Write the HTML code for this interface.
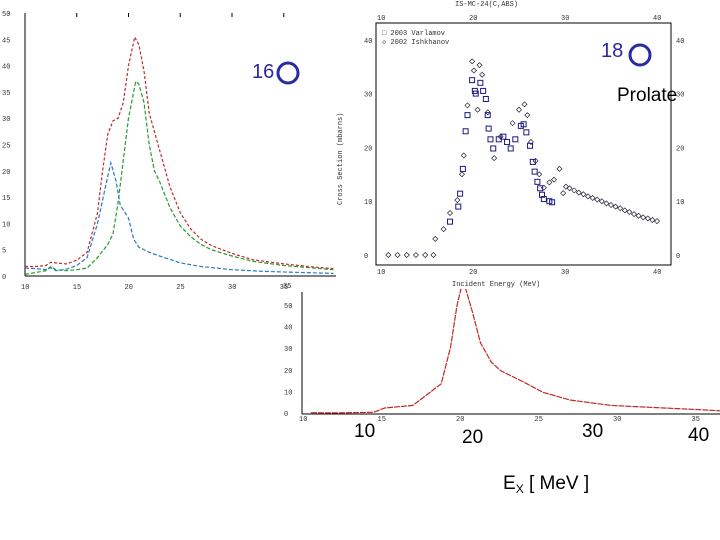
<!DOCTYPE html>
<html><head><meta charset="utf-8"><style>
body{margin:0;background:#fff;}
svg{display:block;font-family:"Liberation Sans",sans-serif;}
.tk{font-family:"Liberation Mono",monospace;font-size:7px;fill:#333;}
</style></head><body>
<svg id="s" width="720" height="540" viewBox="0 0 720 540">
<rect width="720" height="540" fill="#fff"/>
<g id="c1"></g>
<g id="c2"></g>
<g id="c3"></g>
<g>
<text x="252" y="78" font-size="20" fill="#2a2a9a">16</text>
<circle cx="288" cy="73" r="10" fill="none" stroke="#2a2aa8" stroke-width="3"/></g>
<g>
<text x="601" y="57" font-size="20" fill="#2a2a9a">18</text>
<circle cx="640" cy="55" r="10" fill="none" stroke="#2a2aa8" stroke-width="3"/></g>
<text x="617" y="101" font-size="19" fill="#000">Prolate</text>
<g font-size="19" fill="#000">
<text x="354" y="437">10</text><text x="462" y="443">20</text><text x="582" y="437">30</text><text x="688" y="441">40</text></g>
<text x="503" y="489" font-size="19" fill="#000">E<tspan font-size="12" dy="4">X</tspan><tspan dy="-4"> [ MeV ]</tspan></text>
</svg>
<script>
const NS="http://www.w3.org/2000/svg";
function mk(p,t,a){const e=document.createElementNS(NS,t);for(const k in a)e.setAttribute(k,a[k]);p.appendChild(e);return e;}
// ---- chart 1 data ----
const c1RedE=[10,11,12,12.5,13,14,15,16,17,17.5,18,18.5,19,19.5,20,20.6,21,21.5,22,23,24,25,26,27,28,30,32,35,38,39.8];
const c1RedV=[1.8,1.8,2.0,2.6,2.5,2.3,3.0,4.5,12,20,27,29.5,30,33,40,45.4,44,39,31,24,17,12,9,7,5.8,4.3,3.1,2.3,1.7,1.4];
const c1GreenE=[10,12,12.5,13,14,15,16,17,18,18.5,19,19.5,20,20.7,21,21.5,22,22.5,23,24,25,26,27,28,30,32,35,38,39.8];
const c1GreenV=[0.3,1.0,1.8,1.2,1.0,1.2,1.5,3.5,6,8,14,22,30,37,36.5,33,25,20,18,13,9.5,7.5,6,5,3.8,2.8,2.0,1.5,1.2];
const c1BlueE=[10,11,12,12.5,13,14,15,16,17,18,18.3,18.8,19.2,20,20.5,21,22,23,25,27,30,33,36,39.8];
const c1BlueV=[1.5,1.4,1.2,1.6,1.0,1.3,2.0,3.5,10,19,21.5,18,13.5,11,7,5.5,4.5,3.8,2.5,1.8,1.2,0.9,0.7,0.5];
const c1YTicks=[0,5,10,15,20,25,30,35,40,45,50];
const c1XTicks=[10,15,20,25,30,35];
// ---- chart 2 data ----
const c2SqE=[17.5,18.4,18.6,18.9,19.2,19.4,19.9,20.2,20.3,20.8,21.1,21.4,21.6,21.7,21.9,22.2,22.8,23.3,23.7,24.1,24.6,25.2,25.5,25.8,26.2,26.5,26.7,27.0,27.3,27.5,27.7,28.3,28.6];
const c2SqV=[6.2,9.0,11.4,16,23,26,32.5,30.5,30,32,30.5,29,26,23.5,21.5,19.8,21.5,22,21,19.8,21.5,24,24.3,22.8,20.3,17.3,15.5,13.6,12.4,11.2,10.4,10,9.8];
const c2DiE=[10.8,11.8,12.8,13.8,14.8,15.7,15.9,16.8,17.5,18.3,18.8,19.0,19.4,19.9,20.1,20.5,20.7,21.0,21.6,22.3,23.0,24.3,25.0,25.6,25.9,26.3,26.8,27.2,27.7,28.3,28.8,29.4,29.8,30.1,30.5,31,31.5,32,32.5,33,33.5,34,34.5,35,35.5,36,36.5,37,37.5,38,38.5,39,39.5,40];
const c2DiV=[0,0,0,0,0,0,3,4.8,7.8,10.2,15,18.5,27.8,36,34.3,27,35.3,33.5,26.5,18,22,24.5,27,28,26,21,17.5,15,12.5,13.5,14,16,11.5,12.7,12.4,12,11.6,11.3,10.9,10.6,10.3,10,9.6,9.3,9.0,8.7,8.3,8.0,7.6,7.3,7.0,6.8,6.5,6.3];
const c2YTicks=[0,10,20,30,40];
const c2XTicks=[10,20,30,40];
// ---- chart 3 data ----
const c3E=[10.5,12,14.5,15.2,17,18.8,19.4,19.8,20.2,20.8,21.3,22,22.6,24,25.3,27,29.6,31.8,35.3,37];
const c3V=[0.6,0.5,0.8,2.8,4,14,31,50,62,47,33,24,20,15,10,6.5,4,3.2,2,1.3];
const c3YTicks=[0,10,20,30,40,50];
const c3YLabels=["0","10","20","30","40","50"];
const c3XTicks=[10,15,20,25,30,35];

// chart 1 axes
const g1=document.getElementById('c1');
const x1=e=>25+(e-10)*10.35, y1=v=>276-v*5.26;
mk(g1,'line',{x1:25,y1:13,x2:25,y2:276,stroke:'#000','stroke-width':1});
mk(g1,'line',{x1:25,y1:276,x2:336,y2:276,stroke:'#000','stroke-width':1});
c1YTicks.forEach(v=>{const t=mk(g1,'text',{x:2,y:y1(v)+3,class:'tk'});t.textContent=v;

});
c1XTicks.forEach(v=>{const t=mk(g1,'text',{x:x1(v)-4,y:289,class:'tk'});t.textContent=v;


mk(g1,'line',{x1:x1(v),y1:13,x2:x1(v),y2:17,stroke:'#000'});});
function line(g,E,V,fx,fy,col,dash,name,clip){const d=E.map((e,i)=>(i?'L':'M')+fx(e).toFixed(1)+','+fy(V[i]).toFixed(1)).join('');
const p=mk(g,'path',{d:d,fill:'none',stroke:col,'stroke-width':1.2,'stroke-dasharray':dash});
if(clip)p.setAttribute('clip-path',clip);

}
line(g1,c1RedE,c1RedV,x1,y1,'#c0282a','3,2','series-red');
line(g1,c1GreenE,c1GreenV,x1,y1,'#2a9a2a','4,2','series-green');
line(g1,c1BlueE,c1BlueV,x1,y1,'#2a7ac0','4,2','series-blue');

// chart 2
const g2=document.getElementById('c2');
const x2=e=>381+(e-10)*9.2, y2=v=>255-v*5.38;
mk(g2,'rect',{x:376,y:23,width:295,height:242,fill:'none',stroke:'#000','stroke-width':1});
c2YTicks.forEach(v=>{const a=mk(g2,'text',{x:364,y:y2(v)+3,class:'tk'});a.textContent=v;


const b=mk(g2,'text',{x:676,y:y2(v)+3,class:'tk'});b.textContent=v;

});
c2XTicks.forEach(v=>{const a=mk(g2,'text',{x:x2(v)-4,y:20,class:'tk'});a.textContent=v;


const b=mk(g2,'text',{x:x2(v)-4,y:274,class:'tk'});b.textContent=v;

});
c2DiE.forEach((e,i)=>{const p=mk(g2,'path',{d:`M${x2(e)},${y2(c2DiV[i])-2.5}l2.5,2.5l-2.5,2.5l-2.5,-2.5z`,fill:'none',stroke:'#223','stroke-width':0.7});

});
c2SqE.forEach((e,i)=>{const r=mk(g2,'rect',{x:x2(e)-2.5,y:y2(c2SqV[i])-2.5,width:5,height:5,fill:'none',stroke:'#1a1a80','stroke-width':1});

});
[['IS-MC-24(C,ABS)',455,6,0],['□ 2003 Varlamov',382,35,0],['◇ 2002 Ishkhanov',382,44,0],['Incident Energy (MeV)',452,286,0]].forEach(a=>{const t=mk(g2,'text',{x:a[1],y:a[2],class:'tk'});t.textContent=a[0];

});
const yl=mk(g2,'text',{x:0,y:0,class:'tk',transform:'translate(342,205) rotate(-90)'});yl.textContent='Cross Section (mbarns)';



// chart 3
const g3=document.getElementById('c3');
const x3=e=>303+(e-10)*15.7, y3=v=>414-v*2.16;
mk(g3,'clipPath',{id:'cp3'}).appendChild(document.createElementNS(NS,'rect'));
const cr=document.querySelector('#cp3 rect');cr.setAttribute('x',300);cr.setAttribute('y',289);cr.setAttribute('width',420);cr.setAttribute('height',130);
mk(g3,'line',{x1:302,y1:292,x2:302,y2:414,stroke:'#000'});
mk(g3,'line',{x1:302,y1:414,x2:720,y2:414,stroke:'#000'});
c3YTicks.forEach((v,i)=>{const t=mk(g3,'text',{x:284,y:y3(v)+2,class:'tk','font-size':5});t.textContent=c3YLabels[i];

});
c3XTicks.forEach(v=>{const t=mk(g3,'text',{x:x3(v)-4,y:421,class:'tk','font-size':5});t.textContent=v;

});
line(g3,c3E,c3V,x3,y3,'#c0282a','6,1','series-red-bottom','url(#cp3)');
const t35=mk(g3,'text',{x:283,y:288,class:'tk'});t35.textContent='35';


</script>
</body></html>
